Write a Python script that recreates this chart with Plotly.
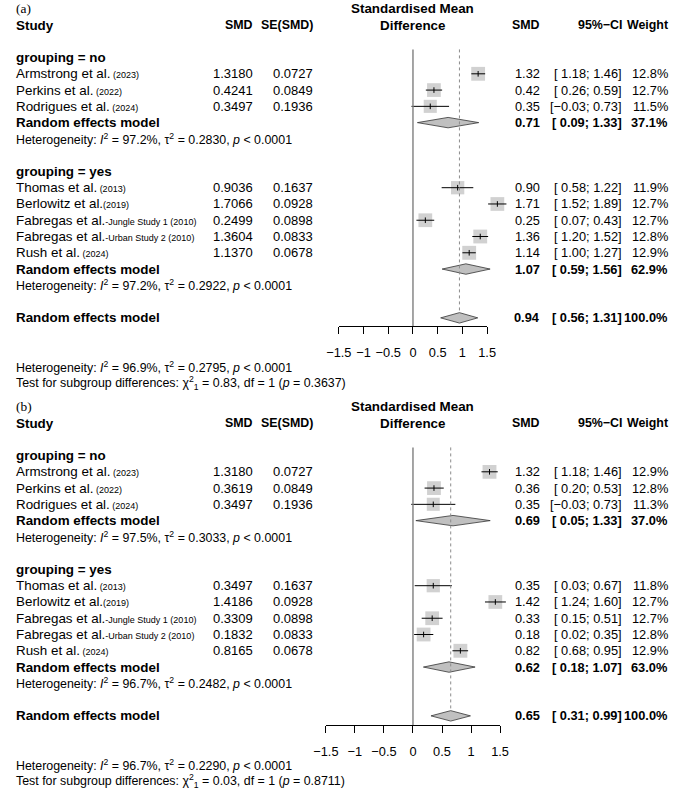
import plotly.graph_objects as go
import numpy as np

FONT = "Liberation Sans, Arial, sans-serif"
SERIF = "Liberation Serif, Times New Roman, serif"
COLOUR_SQUARE = "#BEBEBE"
COLOUR_DIAMOND = "#C0C0C0"
COLOUR_ZERO = "#7F7F7F"
COLOUR_REF = "#8C8C8C"

# ---- data ----
STUDY_NAMES = ["Armstrong et al.", "Perkins et al.", "Rodrigues et al.", "Thomas et al.",
               "Berlowitz et al.", "Fabregas et al.", "Fabregas et al.", "Rush et al."]
STUDY_NOTES = [" (2023)", " (2022)", " (2024)", " (2013)", "(2019)",
               "-Jungle Study 1 (2010)", "-Urban Study 2 (2010)", " (2024)"]
STUDY_GROUP = ["no", "no", "no", "yes", "yes", "yes", "yes", "yes"]
SE_SMD = [0.0727, 0.0849, 0.1936, 0.1637, 0.0928, 0.0898, 0.0833, 0.0678]
GROUPS = ["no", "yes"]
AXIS_TICKS = [-1.5, -1, -0.5, 0, 0.5, 1, 1.5]

# panel (a)
A_SMD = [1.3180, 0.4241, 0.3497, 0.9036, 1.7066, 0.2499, 1.3604, 1.1370]
A_LOWER = [1.18, 0.26, -0.03, 0.58, 1.52, 0.07, 1.20, 1.00]
A_UPPER = [1.46, 0.59, 0.73, 1.22, 1.89, 0.43, 1.52, 1.27]
A_WEIGHT = [12.8, 12.7, 11.5, 11.9, 12.7, 12.7, 12.8, 12.9]
A_SUB_SMD = [0.71, 1.07]
A_SUB_LOWER = [0.09, 0.59]
A_SUB_UPPER = [1.33, 1.56]
A_SUB_WEIGHT = [37.1, 62.9]
A_SUB_I2 = [97.2, 97.2]
A_SUB_TAU2 = [0.2830, 0.2922]
A_ALL = [0.94, 0.56, 1.31]          # SMD, lower, upper
A_ALL_I2, A_ALL_TAU2 = 96.9, 0.2795
A_TEST_Q, A_TEST_P = 0.83, 0.3637

# panel (b)
B_SMD = [1.3180, 0.3619, 0.3497, 0.3497, 1.4186, 0.3309, 0.1832, 0.8165]
B_LOWER = [1.18, 0.20, -0.03, 0.03, 1.24, 0.15, 0.02, 0.68]
B_UPPER = [1.46, 0.53, 0.73, 0.67, 1.60, 0.51, 0.35, 0.95]
B_WEIGHT = [12.9, 12.8, 11.3, 11.8, 12.7, 12.7, 12.8, 12.9]
B_SUB_SMD = [0.69, 0.62]
B_SUB_LOWER = [0.05, 0.18]
B_SUB_UPPER = [1.33, 1.07]
B_SUB_WEIGHT = [37.0, 63.0]
B_SUB_I2 = [97.5, 96.7]
B_SUB_TAU2 = [0.3033, 0.2482]
B_ALL = [0.65, 0.31, 0.99]
B_ALL_I2, B_ALL_TAU2 = 96.7, 0.2290
B_TEST_Q, B_TEST_P = 0.03, 0.8711

HET_P = "&lt; 0.0001"

# ---- layout geometry (pixels) ----
W, H = 682, 793
ROW_H = 16.27
PANEL_TOP = [25, 423]      # pixel y of header row
AXIS_PX = [326, 725]
X_ZERO_PX = 413.3
X_UNIT_PX = [51.1, 60.0]
COL = dict(name=3, smd=248, se=310, head=413, est=545, ci=629.5, weight=677)
FS = 13.4          # study names, bold row labels, plot title
FS_COLHEAD = 12.4  # column headers
FS_NUM = 13.0      # SMD / SE columns
FS_RIGHT = 12.8    # estimate / CI / weight columns
FS_HET, FS_NOTE, FS_TICK = 12.4, 9.0, 12.8
DIAMOND_HALF = 0.32


def fmt_num(v):
    return ("\u2212" if v < 0 else " ") + f"{abs(v):.2f}"


def fmt_ci(lo, hi):
    return f"[{fmt_num(lo)};{fmt_num(hi)}]"


def het_text(i2, tau2):
    return (f"Heterogeneity: <i>I</i><sup>2</sup> = {i2:.1f}%, "
            f"\u03c4<sup>2</sup> = {tau2:.4f}, <i>p</i> {HET_P}")


def add_panel(fig, k, label, smd, lower, upper, weight, sub_smd, sub_lower, sub_upper,
              sub_weight, sub_i2, sub_tau2, overall, all_i2, all_tau2, test_q, test_p):
    xa, ya = ("x", "y") if k == 0 else ("x2", "y2")
    xa_disp, ya_disp = ("x3", "y3") if k == 0 else ("x4", "y4")

    def text(row, col, s, anchor="right", bold=False, size=FS, family=FONT):
        if bold:
            s = f"<b>{s}</b>"
        fig.add_annotation(x=COL[col] / W, xref="paper", y=row, yref=ya, text=s,
                           showarrow=False, xanchor=anchor, yanchor="middle", align=anchor,
                           borderpad=0, borderwidth=0,
                           font=dict(family=family, size=size, color="black"))

    # headers
    text(-1, "name", label, anchor="left", family=SERIF, size=13.4)
    text(0, "name", "Study", anchor="left", bold=True)
    text(0, "smd", "SMD", bold=True, size=FS_COLHEAD)
    text(0, "se", "SE(SMD)", bold=True, size=FS_COLHEAD)
    text(-1, "head", "Standardised Mean", anchor="center", bold=True)
    text(0, "head", "Difference", anchor="center", bold=True)
    text(0, "est", "SMD", bold=True, size=FS_COLHEAD)
    text(0, "ci", "95%\u2212CI", bold=True, size=FS_COLHEAD)
    text(0, "weight", "Weight", bold=True, size=FS_COLHEAD)

    rows, model_rows = [], []
    row = 2
    for gi, g in enumerate(GROUPS):
        text(row, "name", f"grouping = {g}", anchor="left", bold=True)
        idx = [i for i, sg in enumerate(STUDY_GROUP) if sg == g]
        for i in idx:
            row += 1
            rows.append(row)
            text(row, "name", f"{STUDY_NAMES[i]}<span style='font-size:{FS_NOTE}px'>{STUDY_NOTES[i]}</span>",
                 anchor="left")
            text(row, "smd", f"{smd[i]:.4f}", size=FS_NUM)
            text(row, "se", f"{SE_SMD[i]:.4f}", size=FS_NUM)
            text(row, "est", f"{smd[i]:.2f}", size=FS_RIGHT)
            text(row, "ci", fmt_ci(lower[i], upper[i]), size=FS_RIGHT)
            text(row, "weight", f"{weight[i]:.1f}%", size=FS_RIGHT)
        row += 1
        model_rows.append(row)
        text(row, "name", "Random effects model", anchor="left", bold=True)
        text(row, "est", f"{sub_smd[gi]:.2f}", bold=True, size=FS_RIGHT)
        text(row, "ci", fmt_ci(sub_lower[gi], sub_upper[gi]), bold=True, size=FS_RIGHT)
        text(row, "weight", f"{sub_weight[gi]:.1f}%", bold=True, size=FS_RIGHT)
        row += 1
        text(row, "name", het_text(sub_i2[gi], sub_tau2[gi]), anchor="left", size=FS_HET)
        row += 2

    all_row = row
    text(all_row, "name", "Random effects model", anchor="left", bold=True)
    text(all_row, "est", f"{overall[0]:.2f}", bold=True, size=FS_RIGHT)
    text(all_row, "ci", fmt_ci(overall[1], overall[2]), bold=True, size=FS_RIGHT)
    text(all_row, "weight", "100.0%", bold=True, size=FS_RIGHT)
    text(all_row + 3, "name", het_text(all_i2, all_tau2), anchor="left", size=FS_HET)
    text(all_row + 4, "name",
         f"Test for subgroup differences: \u03c7<sup>2</sup><sub>1</sub> = {test_q:.2f}, "
         f"df = 1 (<i>p</i> = {test_p:.4f})", anchor="left", size=FS_HET)

    axis_row = (AXIS_PX[k] - PANEL_TOP[k]) / ROW_H

    # reference lines
    fig.add_shape(type="line", xref=xa, yref=ya, x0=0, x1=0, y0=1.5, y1=axis_row,
                  line=dict(color=COLOUR_ZERO, width=1.4))
    fig.add_shape(type="line", xref=xa, yref=ya, x0=overall[0], x1=overall[0],
                  y0=1.5, y1=all_row - DIAMOND_HALF,
                  line=dict(color=COLOUR_REF, width=1, dash="dot"))

    smd_a = np.array(smd)
    sizes = 13.8 * np.sqrt(np.array(weight) / 12.8)
    fig.add_trace(go.Scatter(
        x=smd, y=rows, mode="markers", xaxis=xa, yaxis=ya, hoverinfo="skip",
        marker=dict(symbol="square", size=sizes, color=COLOUR_SQUARE, line=dict(width=0)),
    ))
    fig.add_trace(go.Scatter(
        x=smd, y=rows, mode="markers", xaxis=xa, yaxis=ya, hoverinfo="skip",
        marker=dict(symbol="line-ns-open", size=4, color="black", line=dict(width=1, color="black")),
        error_x=dict(type="data", symmetric=False, array=np.array(upper) - smd_a,
                     arrayminus=smd_a - np.array(lower), width=0, thickness=1, color="black"),
    ))

    diamonds = list(zip(model_rows, sub_smd, sub_lower, sub_upper)) + [(all_row, *overall)]
    for r, est, lo, hi in diamonds:
        fig.add_trace(go.Scatter(
            x=[lo, est, hi, est, lo],
            y=[r, r - DIAMOND_HALF, r, r + DIAMOND_HALF, r],
            mode="lines", fill="toself", fillcolor=COLOUR_DIAMOND,
            line=dict(color="#333333", width=0.8), xaxis=xa, yaxis=ya, hoverinfo="skip",
        ))

    # empty trace so the tick axis subplot is created
    fig.add_trace(go.Scatter(x=[], y=[], xaxis=xa_disp, yaxis=ya_disp, hoverinfo="skip"))

    # main (invisible) axes mapped to pixels
    u = X_UNIT_PX[k]
    top, bottom = (0.5, 1.0) if k == 0 else (0.0, 0.5)
    px_top, px_bot = (1 - bottom) * H, (1 - top) * H
    fig.update_layout({
        ("xaxis" if k == 0 else "xaxis2"): dict(
            domain=[0, 1], range=[-X_ZERO_PX / u, (W - X_ZERO_PX) / u], visible=False, anchor=ya),
        ("yaxis" if k == 0 else "yaxis2"): dict(
            domain=[top, bottom],
            range=[(px_bot - PANEL_TOP[k]) / ROW_H, (px_top - PANEL_TOP[k]) / ROW_H],
            visible=False, anchor=xa),
    })

    # visible tick axis
    d0 = (X_ZERO_PX + AXIS_TICKS[0] * u) / W
    d1 = (X_ZERO_PX + AXIS_TICKS[-1] * u) / W
    yp = 1 - AXIS_PX[k] / H
    fig.update_layout({
        ("xaxis3" if k == 0 else "xaxis4"): dict(
            domain=[d0, d1], range=[AXIS_TICKS[0], AXIS_TICKS[-1]], anchor=ya_disp,
            tickvals=AXIS_TICKS, showline=True, linecolor="black", linewidth=1,
            ticks="outside", ticklen=7, tickcolor="black", tickwidth=1, tickangle=0,
            showgrid=False, zeroline=False, ticklabelstandoff=8,
            tickfont=dict(family=FONT, size=FS_TICK, color="black")),
        ("yaxis3" if k == 0 else "yaxis4"): dict(
            domain=[yp, yp + 0.01], visible=False, anchor=xa_disp, showgrid=False),
    })


fig = go.Figure()
add_panel(fig, 0, "(a)", A_SMD, A_LOWER, A_UPPER, A_WEIGHT, A_SUB_SMD, A_SUB_LOWER, A_SUB_UPPER,
          A_SUB_WEIGHT, A_SUB_I2, A_SUB_TAU2, A_ALL, A_ALL_I2, A_ALL_TAU2, A_TEST_Q, A_TEST_P)
add_panel(fig, 1, "(b)", B_SMD, B_LOWER, B_UPPER, B_WEIGHT, B_SUB_SMD, B_SUB_LOWER, B_SUB_UPPER,
          B_SUB_WEIGHT, B_SUB_I2, B_SUB_TAU2, B_ALL, B_ALL_I2, B_ALL_TAU2, B_TEST_Q, B_TEST_P)

fig.update_layout(
    width=W, height=H, margin=dict(l=0, r=0, t=0, b=0),
    paper_bgcolor="white", plot_bgcolor="rgba(0,0,0,0)",
    showlegend=False, font=dict(family=FONT, size=FS, color="black"),
)
# drop the browser's default 8px body margin so the figure sits at the page corner
fig.write_html("out.html", config={"displayModeBar": False},
               post_script="document.body.style.margin = '0';")
